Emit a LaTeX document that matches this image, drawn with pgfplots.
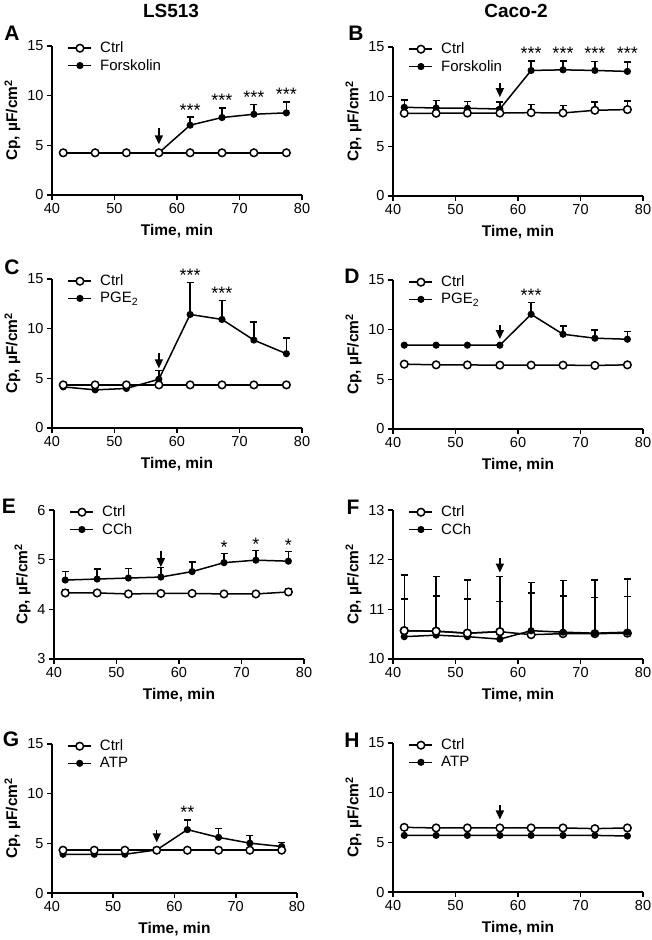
\documentclass[border=0pt]{standalone}
\usepackage{fontspec}
\setmainfont{Liberation Sans}
\usepackage{pgfplots}
\pgfplotsset{compat=1.18}
\usetikzlibrary{arrows.meta}

\newcommand{\tk}{\fontsize{14.5}{14.5}\selectfont}
\newcommand{\legfont}{\fontsize{15}{15}\selectfont}
\newcommand{\lb}{\fontsize{15.5}{15.5}\selectfont\bfseries}

\pgfplotsset{
  cpax/.style={
    width=250pt, height=149pt, scale only axis, anchor=north west,
    xmin=40, xmax=80, xtick={40,50,...,80}, enlargelimits=false,
    axis lines*=left, axis line style={-, line width=1.6pt},
    tick align=outside, major tick length=5pt,
    tick style={black, line width=1.6pt},
    ticklabel style={font=\tk},
    /pgf/number format/assume math mode=true,
    xlabel={Time, min}, ylabel={Cp, µF/cm\textsuperscript{2}},
    label style={font=\lb},
    ylabel style={yshift=0pt},
    xlabel style={yshift=-4pt},
    clip=false,
    legend style={draw=none, fill=none, font=\legfont, at={(0.05,1.055)}, anchor=north west,
      row sep=1pt},
    legend cell align=left,
    legend image code/.code={\draw[mark repeat=2, mark phase=2]
      plot coordinates {(0pt,0pt) (11.5pt,0pt) (23pt,0pt)};
      \path (29pt,0pt);},
  },
  ctrl/.style={black, line width=1.5pt, mark=*, mark size=3.8pt,
    mark options={fill=white, solid, line width=1.5pt}},
  trt/.style={black, line width=1.5pt, mark=*, mark size=2.8pt,
    mark options={fill=black, solid}},
  errs/.style={error bars/y dir=plus, error bars/y explicit,
    error bars/error bar style={line width=1.5pt, black},
    error bars/error mark options={rotate=90, mark size=3.5pt, line width=1.5pt, black}},
}
\tikzset{stim/.style={-{Triangle[length=9pt,width=8pt]}, line width=1.5pt},
  star/.style={font=\fontsize{18}{18}\selectfont, anchor=south, inner sep=0pt}}

\begin{document}
\begin{tikzpicture}
\useasboundingbox (0pt,0pt) rectangle (651pt,-940pt);

\node[font=\fontsize{19}{19}\selectfont\bfseries] at (171pt,-11pt) {LS513};
\node[font=\fontsize{19}{19}\selectfont\bfseries] at (516pt,-11pt) {Caco-2};
\begin{scope}[every node/.style={font=\fontsize{21}{21}\selectfont\bfseries}]
\node at (12pt,-33pt) {A};
\node at (356pt,-33pt) {B};
\node at (12pt,-267pt) {C};
\node at (352pt,-276pt) {D};
\node at (9pt,-506pt) {E};
\node at (353pt,-507pt) {F};
\node at (11pt,-739pt) {G};
\node at (352pt,-740pt) {H};
\end{scope}

% A
\begin{axis}[cpax, at={(52pt,-46pt)}, ymin=0, ymax=15, ytick={0,5,10,15}]
\addlegendimage{ctrl}\addlegendentry{Ctrl}
\addlegendimage{trt}\addlegendentry{Forskolin}
\addplot[trt, errs, forget plot] coordinates {(41.8,4.25) +- (0,0) (46.9,4.25) +- (0,0) (51.9,4.25) +- (0,0) (57.1,4.25) +- (0,0)
  (62.1,7.03) +- (0,0.80) (67.2,7.80) +- (0,0.97) (72.3,8.13) +- (0,1.00) (77.5,8.27) +- (0,1.10)};
\addplot[ctrl, forget plot] coordinates {(41.8,4.25) (46.9,4.25) (51.9,4.25) (57.1,4.25) (62.1,4.25) (67.2,4.25) (72.3,4.25) (77.5,4.25)};
\draw[stim] (axis cs:57.1,6.75) -- (axis cs:57.1,5.1);
\node[star] at (axis cs:62.1,7.9) {***};
\node[star] at (axis cs:67.2,8.85) {***};
\node[star] at (axis cs:72.3,9.2) {***};
\node[star] at (axis cs:77.5,9.45) {***};
\end{axis}

% B
\begin{axis}[cpax, at={(393pt,-47pt)}, ymin=0, ymax=15, ytick={0,5,10,15}]
\addlegendimage{ctrl}\addlegendentry{Ctrl}
\addlegendimage{trt}\addlegendentry{Forskolin}
\addplot[trt, errs, forget plot] coordinates {(41.8,8.93) +- (0,0.74) (46.9,8.86) +- (0,0.74) (51.9,8.83) +- (0,0.67) (57.1,8.76) +- (0,0.68)
  (62.1,12.64) +- (0,0.94) (67.2,12.70) +- (0,0.90) (72.3,12.64) +- (0,0.91) (77.5,12.54) +- (0,0.94)};
\addplot[ctrl, errs, forget plot] coordinates {(41.8,8.33) +- (0,0.5) (46.9,8.33) +- (0,0.5) (51.9,8.35) +- (0,0.5) (57.1,8.35) +- (0,0.5)
  (62.1,8.39) +- (0,0.80) (67.2,8.36) +- (0,0.74) (72.3,8.63) +- (0,0.81) (77.5,8.70) +- (0,0.84)};
\draw[stim] (axis cs:57.1,11.4) -- (axis cs:57.1,9.95);
\node[star] at (axis cs:62.1,13.7) {***};
\node[star] at (axis cs:67.2,13.7) {***};
\node[star] at (axis cs:72.3,13.7) {***};
\node[star] at (axis cs:77.5,13.7) {***};
\end{axis}

% C
\begin{axis}[cpax, at={(52pt,-279pt)}, ymin=0, ymax=15, ytick={0,5,10,15}]
\addlegendimage{ctrl}\addlegendentry{Ctrl}
\addlegendimage{trt}\addlegendentry{PGE\textsubscript{2}}
\addplot[trt, errs, forget plot] coordinates {(41.8,4.14) +- (0,0) (46.9,3.84) +- (0,0) (51.9,3.98) +- (0,0) (57.1,4.91) +- (0,0.90)
  (62.1,11.43) +- (0,3.24) (67.2,10.93) +- (0,1.90) (72.3,8.85) +- (0,1.81) (77.5,7.48) +- (0,1.57)};
\addplot[ctrl, forget plot] coordinates {(41.8,4.34) (46.9,4.34) (51.9,4.34) (57.1,4.34) (62.1,4.34) (67.2,4.34) (72.3,4.34) (77.5,4.34)};
\draw[stim] (axis cs:57.1,7.6) -- (axis cs:57.1,6.0);
\node[star] at (axis cs:62.1,14.7) {***};
\node[star] at (axis cs:67.2,12.9) {***};
\end{axis}

% D
\begin{axis}[cpax, at={(393pt,-280pt)}, ymin=0, ymax=15, ytick={0,5,10,15}]
\addlegendimage{ctrl}\addlegendentry{Ctrl}
\addlegendimage{trt}\addlegendentry{PGE\textsubscript{2}}
\addplot[trt, errs, forget plot] coordinates {(41.8,8.44) +- (0,0) (46.9,8.44) +- (0,0) (51.9,8.44) +- (0,0) (57.1,8.44) +- (0,0)
  (62.1,11.55) +- (0,1.20) (67.2,9.54) +- (0,0.84) (72.3,9.14) +- (0,0.84) (77.5,9.04) +- (0,0.77)};
\addplot[ctrl, errs, forget plot] coordinates {(41.8,6.53) +- (0,0.15) (46.9,6.46) +- (0,0.05) (51.9,6.45) +- (0,0.05) (57.1,6.43) +- (0,0.05)
  (62.1,6.43) +- (0,0.05) (67.2,6.43) +- (0,0.05) (72.3,6.40) +- (0,0.05) (77.5,6.46) +- (0,0.05)};
\draw[stim] (axis cs:57.1,10.5) -- (axis cs:57.1,9.05);
\node[star] at (axis cs:62.1,12.8) {***};
\end{axis}

% E
\begin{axis}[cpax, at={(54pt,-510pt)}, ymin=3, ymax=6, ytick={3,4,5,6}]
\addlegendimage{ctrl}\addlegendentry{Ctrl}
\addlegendimage{trt}\addlegendentry{CCh}
\addplot[trt, errs, forget plot] coordinates {(41.8,4.59) +- (0,0.17) (46.9,4.61) +- (0,0.20) (51.9,4.63) +- (0,0.19) (57.1,4.65) +- (0,0.19)
  (62.1,4.76) +- (0,0.19) (67.2,4.94) +- (0,0.18) (72.3,4.99) +- (0,0.19) (77.5,4.97) +- (0,0.19)};
\addplot[ctrl, errs, forget plot] coordinates {(41.8,4.33) +- (0,0.06) (46.9,4.33) +- (0,0.03) (51.9,4.31) +- (0,0.03) (57.1,4.32) +- (0,0.03)
  (62.1,4.32) +- (0,0.03) (67.2,4.31) +- (0,0.03) (72.3,4.31) +- (0,0.03) (77.5,4.35) +- (0,0.06)};
\draw[stim] (axis cs:57.1,5.17) -- (axis cs:57.1,4.85);
\node[star] at (axis cs:67.2,5.13) {*};
\node[star] at (axis cs:72.3,5.19) {*};
\node[star] at (axis cs:77.5,5.17) {*};
\end{axis}

% F
\begin{axis}[cpax, at={(393pt,-510pt)}, ymin=10, ymax=13, ytick={10,11,12,13}]
\addlegendimage{ctrl}\addlegendentry{Ctrl}
\addlegendimage{trt}\addlegendentry{CCh}
\addplot[ctrl, errs, forget plot] coordinates {(41.8,10.57) +- (0,0.64) (46.9,10.56) +- (0,0.71) (51.9,10.52) +- (0,0.69) (57.1,10.55) +- (0,0.61)
  (62.1,10.49) +- (0,0.84) (67.2,10.51) +- (0,0.76) (72.3,10.51) +- (0,0.73) (77.5,10.52) +- (0,0.74)};
\addplot[trt, errs, forget plot] coordinates {(41.8,10.45) +- (0,1.24) (46.9,10.48) +- (0,1.18) (51.9,10.45) +- (0,1.14) (57.1,10.40) +- (0,1.26)
  (62.1,10.57) +- (0,0.97) (67.2,10.54) +- (0,1.04) (72.3,10.52) +- (0,1.07) (77.5,10.54) +- (0,1.07)};
\addplot[ctrl, forget plot] coordinates {(41.8,10.57) (46.9,10.56) (51.9,10.52) (57.1,10.55)};
\draw[stim] (axis cs:57.1,12.03) -- (axis cs:57.1,11.74);
\end{axis}

% G
\begin{axis}[cpax, width=245pt, at={(52pt,-744pt)}, ymin=0, ymax=15, ytick={0,5,10,15}]
\addlegendimage{ctrl}\addlegendentry{Ctrl}
\addlegendimage{trt}\addlegendentry{ATP}
\addplot[trt, errs, forget plot] coordinates {(41.8,3.90) +- (0,0) (46.9,3.90) +- (0,0) (51.9,3.90) +- (0,0) (57.1,4.34) +- (0,0.24)
  (62.1,6.38) +- (0,0.98) (67.2,5.60) +- (0,0.91) (72.3,5.02) +- (0,0.75) (77.5,4.68) +- (0,0.41)};
\addplot[ctrl, forget plot] coordinates {(41.8,4.31) (46.9,4.31) (51.9,4.31) (57.1,4.31) (62.1,4.31) (67.2,4.31) (72.3,4.31) (77.5,4.31)};
\draw[stim] (axis cs:57.1,6.35) -- (axis cs:57.1,5.1);
\node[star] at (axis cs:62.1,7.45) {**};
\end{axis}

% H
\begin{axis}[cpax, at={(393pt,-743pt)}, ymin=0, ymax=15, ytick={0,5,10,15}]
\addlegendimage{ctrl}\addlegendentry{Ctrl}
\addlegendimage{trt}\addlegendentry{ATP}
\addplot[trt, forget plot] coordinates {(41.8,5.70) (46.9,5.70) (51.9,5.70) (57.1,5.70) (62.1,5.70) (67.2,5.70) (72.3,5.70) (77.5,5.64)};
\addplot[ctrl, errs, forget plot] coordinates {(41.8,6.51) +- (0,0.1) (46.9,6.45) +- (0,0.1) (51.9,6.45) +- (0,0.1) (57.1,6.45) +- (0,0.1)
  (62.1,6.45) +- (0,0.1) (67.2,6.45) +- (0,0.1) (72.3,6.38) +- (0,0.1) (77.5,6.45) +- (0,0.1)};
\draw[stim] (axis cs:57.1,8.76) -- (axis cs:57.1,7.3);
\end{axis}
\end{tikzpicture}
\end{document}
